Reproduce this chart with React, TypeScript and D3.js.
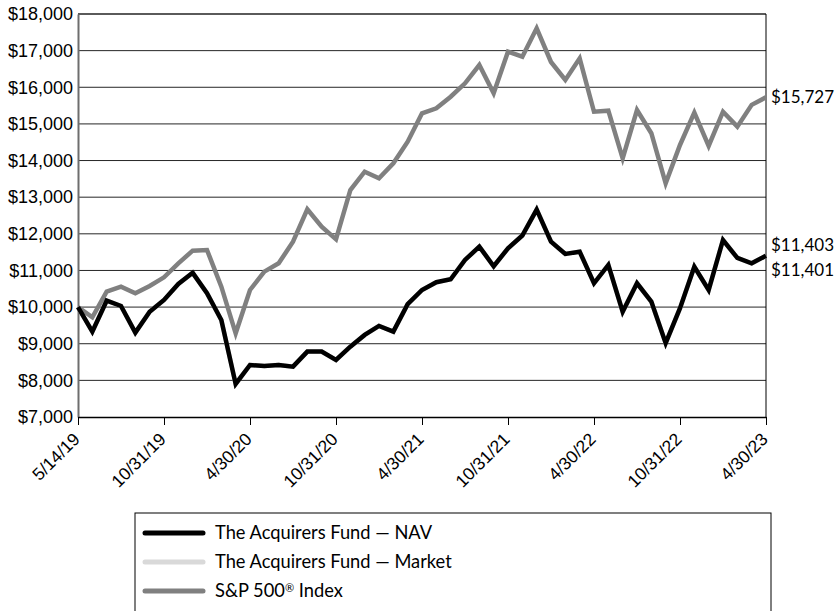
import React, {useEffect, useRef} from "react";
import * as d3 from "d3";

const datas = [
    "5/14/19", "5/31/19", "6/30/19", "7/31/19", "8/31/19", "9/30/19", "10/31/19",
    "11/30/19", "12/31/19", "1/31/20", "2/29/20", "3/31/20", "4/30/20",
    "5/31/20", "6/30/20", "7/31/20", "8/31/20", "9/30/20", "10/31/20",
    "11/30/20", "12/31/20", "1/31/21", "2/28/21", "3/31/21", "4/30/21",
    "5/31/21", "6/30/21", "7/31/21", "8/31/21", "9/30/21", "10/31/21",
    "11/30/21", "12/31/21", "1/31/22", "2/28/22", "3/31/22", "4/30/22",
    "5/31/22", "6/30/22", "7/31/22", "8/31/22", "9/30/22", "10/31/22",
    "11/30/22", "12/31/22", "1/31/23", "2/28/23", "3/31/23", "4/30/23",
];

const rotulosX = ["5/14/19", "10/31/19", "4/30/20", "10/31/20", "4/30/21", "10/31/21", "4/30/22", "10/31/22", "4/30/23"];
const ticksY = [7000, 8000, 9000, 10000, 11000, 12000, 13000, 14000, 15000, 16000, 17000, 18000];

const nav = [
    10000, 9330, 10175, 10030, 9303, 9875, 10194, 10631, 10935, 10377, 9649, 7902, 8420,
    8393, 8420, 8375, 8785, 8785, 8557, 8920, 9240, 9485, 9330, 10080, 10467,
    10680, 10758, 11286, 11650, 11115, 11605, 11955, 12660, 11785, 11450, 11513, 10650,
    11150, 9875, 10650, 10150, 9015, 9970, 11100, 10467, 11832, 11341, 11196, 11401,
];

const mercado = [
    10000, 9335, 10180, 10030, 9300, 9880, 10190, 10635, 10930, 10380, 9640, 7910, 8425,
    8390, 8425, 8370, 8790, 8780, 8560, 8925, 9235, 9490, 9325, 10085, 10470,
    10675, 10760, 11290, 11645, 11120, 11600, 11960, 12655, 11790, 11445, 11515, 10645,
    11155, 9870, 10655, 10145, 9020, 9965, 11105, 10460, 11835, 11345, 11190, 11403,
];

const sp500 = [
    10000, 9722, 10422, 10558, 10377, 10577, 10813, 11195, 11540, 11559, 10558, 9285, 10467,
    10967, 11195, 11785, 12669, 12195, 11850, 13196, 13696, 13515, 13925, 14515, 15290,
    15426, 15743, 16108, 16608, 15835, 16971, 16835, 17609, 16690, 16200, 16790, 15333,
    15360, 14060, 15380, 14745, 13380, 14425, 15306, 14400, 15333, 14925, 15520, 15727,
];

const series = [
    {nome: "The Acquirers Fund — Market", sup: "", valores: mercado, cor: "#d9d9d9"},
    {nome: "S&P 500", sup: "®", valores: sp500, cor: "#808080"},
    {nome: "The Acquirers Fund — NAV", sup: "", valores: nav, cor: "#000000"},
];
const sufixo = [" ", " Index", ""];
const ordemLegenda = [2, 0, 1];

const largura = 839, altura = 611;
const margem = {top: 14, right: 73, bottom: 194, left: 78};
const fonteEixo = "'Liberation Sans', Arial, sans-serif";
const fonteTexto = "Lato, 'Open Sans', sans-serif";

export default function App() {
    const ref = useRef<SVGSVGElement>(null);

    useEffect(() => {
        const svg = d3.select(ref.current);
        svg.selectAll("*").remove();

        const x = d3.scalePoint<string>().domain(datas).range([margem.left, largura - margem.right]);
        const y = d3.scaleLinear().domain([7000, 18000]).range([altura - margem.bottom, margem.top]);
        const baseY = altura - margem.bottom;
        const direita = largura - margem.right;

        // grade horizontal
        svg.append("g")
            .selectAll("line")
            .data(ticksY.slice(1))
            .join("line")
            .attr("x1", margem.left).attr("x2", direita)
            .attr("y1", d => y(d)).attr("y2", d => y(d))
            .attr("stroke", d => d === 18000 ? "#5a5a5a" : "#262626")
            .attr("stroke-width", d => d === 18000 ? 2 : 1);

        // borda direita
        svg.append("line")
            .attr("x1", direita).attr("x2", direita)
            .attr("y1", margem.top).attr("y2", baseY)
            .attr("stroke", "#000").attr("stroke-width", 1);

        // eixo y
        svg.append("g")
            .attr("transform", `translate(${margem.left},0)`)
            .call(d3.axisLeft(y).tickValues(ticksY).tickFormat(d3.format("$,.0f")).tickSize(0).tickPadding(5))
            .call(g => g.select(".domain").attr("stroke", "#6e6e6e").attr("stroke-width", 2))
            .call(g => g.selectAll("text").attr("font-family", fonteEixo).attr("font-size", 18).attr("fill", "#000"));

        // eixo x
        svg.append("g")
            .attr("transform", `translate(0,${baseY})`)
            .call(d3.axisBottom(x).tickValues(rotulosX).tickSize(8).tickSizeOuter(0))
            .call(g => g.select(".domain").attr("stroke", "#000").attr("stroke-width", 1.5))
            .call(g => g.selectAll(".tick line").attr("stroke", "#000"))
            .call(g => g.selectAll("text")
                .attr("font-family", fonteEixo)
                .attr("font-size", 17.5)
                .attr("fill", "#000")
                .attr("text-anchor", "end")
                .attr("x", 0)
                .attr("y", 0)
                .attr("dy", "0.35em")
                .attr("transform", "translate(-2,19) rotate(-45)"));

        // linhas
        const linha = d3.line<number>().x((_, i) => x(datas[i]) ?? NaN).y(d => y(d));
        svg.append("g")
            .selectAll("path")
            .data(series)
            .join("path")
            .attr("d", s => linha(s.valores))
            .attr("fill", "none")
            .attr("stroke", s => s.cor)
            .attr("stroke-width", 4.5)
            .attr("stroke-linejoin", "miter");

        // rótulos finais
        const ult = datas.length - 1;
        const finais = [
            {texto: d3.format("$,")(sp500[ult]), y: y(sp500[ult])},
            {texto: d3.format("$,")(mercado[ult]), y: y(mercado[ult]) - 11},
            {texto: d3.format("$,")(nav[ult]), y: y(nav[ult]) + 14},
        ];
        svg.append("g")
            .selectAll("text")
            .data(finais)
            .join("text")
            .attr("x", direita + 5)
            .attr("y", d => d.y)
            .attr("dy", "0.35em")
            .attr("font-family", fonteTexto)
            .attr("font-size", 17)
            .attr("fill", "#000")
            .text(d => d.texto);

        // legenda
        const leg = svg.append("g").attr("transform", "translate(135,513)");
        leg.append("rect")
            .attr("x", 0).attr("y", 0)
            .attr("width", 636).attr("height", 120)
            .attr("fill", "#fff").attr("stroke", "#000").attr("stroke-width", 1);
        const itens = leg.selectAll("g.item")
            .data(ordemLegenda)
            .join("g")
            .attr("class", "item")
            .attr("transform", (_, i) => `translate(0,${20 + i * 29})`);
        itens.append("line")
            .attr("x1", 10).attr("x2", 68)
            .attr("stroke", i => series[i].cor)
            .attr("stroke-width", 5)
            .attr("stroke-linecap", "round");
        const textos = itens.append("text")
            .attr("x", 80)
            .attr("dy", "0.35em")
            .attr("font-family", fonteTexto)
            .attr("font-size", 18.3)
            .attr("fill", "#000");
        textos.append("tspan").text(i => series[i].nome);
        textos.filter(i => series[i].sup !== "")
            .append("tspan")
            .attr("font-size", 11)
            .attr("dy", "-0.5em")
            .text(i => series[i].sup);
        textos.filter(i => series[i].sup !== "")
            .append("tspan")
            .attr("dy", "0.3em")
            .text(i => sufixo[i]);
    }, []);

    return (
        <div style={{position: "absolute", left: 0, top: 0}}>
            <svg ref={ref} width={largura} height={altura} style={{display: "block", background: "#fff"}}/>
        </div>
    );
}
